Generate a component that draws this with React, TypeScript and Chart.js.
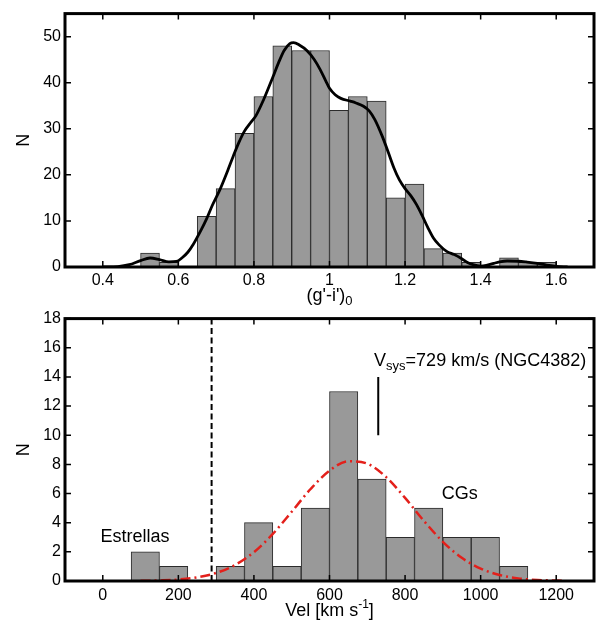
import React, { useEffect, useRef } from "react";
import { Chart, registerables } from "chart.js";

Chart.register(...registerables);

// ---------- Top panel: colour histogram ----------
const COLOR_BIN_CENTERS = [
  0.525, 0.575, 0.625, 0.675, 0.725, 0.775, 0.825, 0.875, 0.925, 0.975, 1.025,
  1.075, 1.125, 1.175, 1.225, 1.275, 1.325, 1.375, 1.425, 1.475, 1.525, 1.575,
];
const COLOR_COUNTS = [3, 1, 0, 11, 17, 29, 37, 48, 47, 47, 34, 37, 36, 15, 18, 4, 3, 1, 0, 2, 1, 1];

const KDE_X = [
  0.4, 0.44, 0.47, 0.5, 0.525, 0.55, 0.575, 0.595, 0.61, 0.625, 0.64, 0.66, 0.675, 0.69, 0.71,
  0.73, 0.745, 0.76, 0.775, 0.79, 0.805, 0.825, 0.85, 0.865, 0.88, 0.895, 0.905, 0.92, 0.94,
  0.96, 0.975, 0.99, 1.0, 1.015, 1.03, 1.055, 1.07, 1.09, 1.105, 1.12, 1.14, 1.155, 1.17,
  1.185, 1.2, 1.215, 1.23, 1.245, 1.26, 1.275, 1.29, 1.31, 1.33, 1.35, 1.365, 1.38, 1.4,
  1.415, 1.435, 1.45, 1.47, 1.5, 1.52, 1.55, 1.575, 1.6, 1.63,
];
const KDE_Y = [
  0, 0.1, 0.5, 1.4, 1.95, 1.6, 1.1, 1.2, 2.0, 3.2, 5.0, 8.0, 10.5, 13.4, 16.8,
  20.8, 24.0, 27.0, 29.5, 31.2, 32.8, 36.2, 41.2, 44.3, 47.0, 48.5, 48.7, 48.2, 47.0,
  45.0, 42.9, 40.4, 38.8, 37.4, 36.6, 36.0, 35.6, 34.9, 33.9, 32.0, 28.3, 25.0, 21.6,
  18.9, 17.0, 15.5, 13.6, 11.2, 8.6, 6.3, 4.8, 3.4, 2.7, 1.8, 1.0, 0.5, 0.2,
  0.35, 0.8, 1.1, 1.3, 1.25, 1.1, 0.8, 0.4, 0.15, 0,
];
const COLOR_X_TICKS = [0.4, 0.6, 0.8, 1.0, 1.2, 1.4, 1.6];
const COLOR_Y_TICKS = [0, 10, 20, 30, 40, 50];

// ---------- Bottom panel: velocity histogram ----------
const VEL_BIN_CENTERS = [112.5, 187.5, 262.5, 337.5, 412.5, 487.5, 562.5, 637.5, 712.5, 787.5, 862.5, 937.5, 1012.5, 1087.5];
const VEL_COUNTS = [2, 1, 0, 1, 4, 1, 5, 13, 7, 3, 5, 3, 3, 1];

const FIT_X = [100, 150, 200, 250, 300, 350, 400, 450, 500, 550, 600, 650, 700, 750, 800, 850, 900, 950, 1000, 1050, 1100, 1150, 1200, 1225];
const FIT_Y = [0.01, 0.04, 0.1, 0.25, 0.55, 1.1, 1.98, 3.23, 4.75, 6.31, 7.57, 8.21, 8.05, 7.13, 5.7, 4.12, 2.69, 1.59, 0.85, 0.41, 0.18, 0.07, 0.03, 0.01];

const VEL_X_TICKS = [0, 200, 400, 600, 800, 1000, 1200];
const VEL_Y_TICKS = [0, 2, 4, 6, 8, 10, 12, 14, 16, 18];

const STAR_CUT = 288;
const VSYS = 729;
const VSYS_MARK = [10, 14];

const LABEL_ESTRELLAS = "Estrellas";
const LABEL_CGS = "CGs";

const FONT = "'Liberation Sans', Arial, Helvetica, sans-serif";

type Part = { t: string; size: number; dy?: number };

function drawRich(ctx: CanvasRenderingContext2D, parts: Part[], x: number, y: number, align: "left" | "center") {
  let total = 0;
  for (const p of parts) {
    ctx.font = `${p.size}px ${FONT}`;
    total += ctx.measureText(p.t).width;
  }
  let cx = align === "center" ? x - total / 2 : x;
  ctx.textAlign = "left";
  for (const p of parts) {
    ctx.font = `${p.size}px ${FONT}`;
    ctx.fillText(p.t, cx, y + (p.dy || 0));
    cx += ctx.measureText(p.t).width;
  }
}

function makeFramePlugin(xTicks: number[], yTicks: number[], drawText: (chart: any) => void) {
  return {
    id: "frameTicks",
    afterDatasetsDraw(chart: any) {
      const { ctx, chartArea: a, scales } = chart;
      ctx.save();
      ctx.strokeStyle = "#000";
      ctx.lineWidth = 1.5;
      const L = 6;
      ctx.beginPath();
      for (const v of xTicks) {
        const px = scales.x.getPixelForValue(v);
        ctx.moveTo(px, a.bottom);
        ctx.lineTo(px, a.bottom - L);
        ctx.moveTo(px, a.top);
        ctx.lineTo(px, a.top + L);
      }
      for (const v of yTicks) {
        const py = scales.y.getPixelForValue(v);
        ctx.moveTo(a.left, py);
        ctx.lineTo(a.left + L, py);
        ctx.moveTo(a.right, py);
        ctx.lineTo(a.right - L, py);
      }
      ctx.stroke();
      ctx.lineWidth = 3;
      ctx.strokeRect(a.left, a.top, a.right - a.left, a.bottom - a.top);
      ctx.restore();
    },
    afterDraw(chart: any) {
      const ctx = chart.ctx;
      ctx.save();
      ctx.fillStyle = "#000";
      drawText(chart);
      ctx.restore();
    },
  };
}

function drawYTitle(chart: any) {
  const { ctx, chartArea: a } = chart;
  ctx.save();
  ctx.translate(24, (a.top + a.bottom) / 2);
  ctx.rotate(-Math.PI / 2);
  ctx.font = `18px ${FONT}`;
  ctx.textAlign = "center";
  ctx.textBaseline = "middle";
  ctx.fillText("N", 0, 0);
  ctx.restore();
}

function baseScales(
  xMin: number,
  xMax: number,
  yMax: number,
  xTicks: number[],
  yTicks: number[],
  xHeight: number,
  xPad: number,
  fmt: (v: number) => string
) {
  return {
    x: {
      type: "linear",
      min: xMin,
      max: xMax,
      offset: false,
      grid: { display: false, drawTicks: false, offset: false },
      border: { display: false },
      afterBuildTicks: (s: any) => {
        s.ticks = xTicks.map((v) => ({ value: v }));
      },
      afterFit: (s: any) => {
        s.height = xHeight;
      },
      ticks: {
        padding: xPad,
        color: "#000",
        font: { family: FONT, size: 16 },
        maxRotation: 0,
        autoSkip: false,
        callback: (v: any) => fmt(Number(v)),
      },
    },
    y: {
      type: "linear",
      min: 0,
      max: yMax,
      grid: { display: false, drawTicks: false },
      border: { display: false },
      afterBuildTicks: (s: any) => {
        s.ticks = yTicks.map((v) => ({ value: v }));
      },
      afterFit: (s: any) => {
        s.width = 65;
      },
      ticks: {
        padding: 4,
        color: "#000",
        font: { family: FONT, size: 16 },
        autoSkip: false,
        callback: (v: any) => String(v),
      },
    },
  };
}

export default function App() {
  const topRef = useRef<HTMLCanvasElement>(null);
  const botRef = useRef<HTMLCanvasElement>(null);

  useEffect(() => {
    const barBorder = (c: any) => (c.raw && c.raw.y === 0 ? 0 : 1);

    const topChart = new Chart(topRef.current as HTMLCanvasElement, {
      type: "bar",
      data: {
        datasets: [
          {
            type: "line",
            data: KDE_X.map((x, i) => ({ x, y: KDE_Y[i] })),
            borderColor: "#000",
            borderWidth: 2.8,
            pointRadius: 0,
            fill: false,
            cubicInterpolationMode: "monotone",
            order: 1,
          } as any,
          {
            type: "bar",
            data: COLOR_BIN_CENTERS.map((x, i) => ({ x, y: COLOR_COUNTS[i] })),
            backgroundColor: "#999999",
            borderColor: "#2b2b2b",
            borderWidth: barBorder,
            barPercentage: 1,
            categoryPercentage: 1,
            order: 2,
          } as any,
        ],
      },
      options: {
        responsive: false,
        devicePixelRatio: 1,
        animation: false,
        layout: { padding: { top: 4, right: 8, left: 0, bottom: 0 } },
        plugins: { legend: { display: false }, tooltip: { enabled: false } },
        scales: baseScales(0.3, 1.7, 55, COLOR_X_TICKS, COLOR_Y_TICKS, 38, 4, (v) => String(Math.round(v * 10) / 10)) as any,
      },
      plugins: [
        makeFramePlugin(COLOR_X_TICKS, COLOR_Y_TICKS, (chart: any) => {
          const { ctx, chartArea: a } = chart;
          drawYTitle(chart);
          ctx.textBaseline = "alphabetic";
          drawRich(
            ctx,
            [
              { t: "(g'-i')", size: 18 },
              { t: "0", size: 13, dy: 4 },
            ],
            (a.left + a.right) / 2,
            301,
            "center"
          );
        }),
      ],
    } as any);

    const botChart = new Chart(botRef.current as HTMLCanvasElement, {
      type: "bar",
      data: {
        datasets: [
          {
            type: "line",
            data: FIT_X.map((x, i) => ({ x, y: FIT_Y[i] })),
            borderColor: "#e3201b",
            borderWidth: 2.5,
            borderDash: [10, 4, 2, 4],
            pointRadius: 0,
            fill: false,
            cubicInterpolationMode: "monotone",
            order: 1,
          } as any,
          {
            type: "line",
            data: [
              { x: STAR_CUT, y: 0 },
              { x: STAR_CUT, y: 18 },
            ],
            borderColor: "#000",
            borderWidth: 2,
            borderDash: [6, 3.5],
            pointRadius: 0,
            fill: false,
            order: 1,
          } as any,
          {
            type: "line",
            data: [
              { x: VSYS, y: VSYS_MARK[0] },
              { x: VSYS, y: VSYS_MARK[1] },
            ],
            borderColor: "#000",
            borderWidth: 2,
            pointRadius: 0,
            fill: false,
            order: 1,
          } as any,
          {
            type: "bar",
            data: VEL_BIN_CENTERS.map((x, i) => ({ x, y: VEL_COUNTS[i] })),
            backgroundColor: "#999999",
            borderColor: "#2b2b2b",
            borderWidth: barBorder,
            barPercentage: 1,
            categoryPercentage: 1,
            order: 2,
          } as any,
        ],
      },
      options: {
        responsive: false,
        devicePixelRatio: 1,
        animation: false,
        layout: { padding: { top: 11, right: 8, left: 0, bottom: 0 } },
        plugins: { legend: { display: false }, tooltip: { enabled: false } },
        scales: baseScales(-100, 1300, 18, VEL_X_TICKS, VEL_Y_TICKS, 46, 5, (v) => String(v)) as any,
      },
      plugins: [
        makeFramePlugin(VEL_X_TICKS, VEL_Y_TICKS, (chart: any) => {
          const { ctx, chartArea: a, scales } = chart;
          drawYTitle(chart);
          ctx.textBaseline = "alphabetic";
          drawRich(
            ctx,
            [
              { t: "Vel [km s", size: 18 },
              { t: "-1", size: 12, dy: -8 },
              { t: "]", size: 18 },
            ],
            (a.left + a.right) / 2,
            311,
            "center"
          );
          ctx.textBaseline = "middle";
          drawRich(ctx, [{ t: LABEL_ESTRELLAS, size: 18 }], scales.x.getPixelForValue(85), scales.y.getPixelForValue(3.0), "center");
          drawRich(ctx, [{ t: LABEL_CGS, size: 18 }], scales.x.getPixelForValue(945), scales.y.getPixelForValue(6.0), "center");
          drawRich(
            ctx,
            [
              { t: "V", size: 18 },
              { t: "sys", size: 13, dy: 6 },
              { t: `=${VSYS} km/s (NGC4382)`, size: 18 },
            ],
            scales.x.getPixelForValue(718),
            scales.y.getPixelForValue(15.1),
            "left"
          );
        }),
      ],
    } as any);

    return () => {
      topChart.destroy();
      botChart.destroy();
    };
  }, []);

  return (
    <div style={{ position: "absolute", left: 0, top: 0, width: 602, height: 627, background: "#fff" }}>
      <canvas ref={topRef} width={602} height={305} style={{ position: "absolute", left: 0, top: 0, width: 602, height: 305 }} />
      <canvas ref={botRef} width={602} height={322} style={{ position: "absolute", left: 0, top: 305, width: 602, height: 322 }} />
    </div>
  );
}
